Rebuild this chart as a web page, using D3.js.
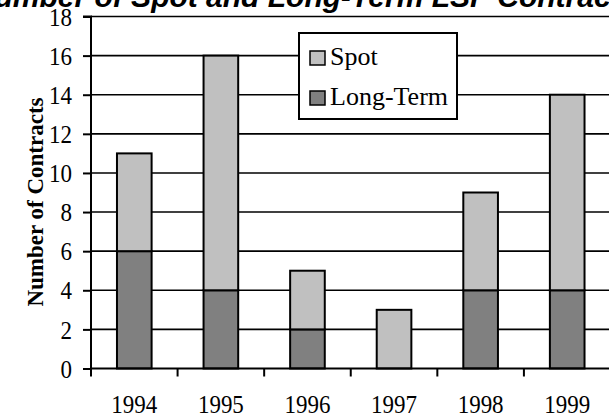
<!DOCTYPE html>
<html>
<head>
<meta charset="utf-8">
<script src="https://cdn.jsdelivr.net/npm/d3@7"></script>
<style>
  body { margin: 0; background: #fff; }
  svg { display: block; }
  .tall { transform-box: fill-box; transform-origin: center; transform: scaleY(1.1); }
</style>
</head>
<body>
<div class="chart-container"></div>
<script>
//! DATA
const years = ['1994', '1995', '1996', '1997', '1998', '1999'];
const longTerm = [6, 4, 2, 0, 4, 4];
const spot = [5, 12, 3, 3, 5, 10];
const yTicks = [0, 2, 4, 6, 8, 10, 12, 14, 16, 18];
const seriesNames = ['Spot', 'Long-Term'];
const seriesColors = ['#c0c0c0', '#808080'];

//! CONSTS
const width = 609;
const height = 418;
const plotLeft = 91;
const plotRight = 610.5;
const plotTop = 16.5;
const plotBottom = 368.5;
const serif = '"Liberation Serif", "Times New Roman", serif';

//! SVG
const svg = d3.select('.chart-container')
  .append('svg')
  .attr('width', width)
  .attr('height', height);

//! SCALES
const xScale = d3.scaleBand()
  .domain(years)
  .range([plotLeft, plotRight])
  .paddingInner(0.6)
  .paddingOuter(0.3);

const yScale = d3.scaleLinear()
  .domain([0, 18])
  .range([plotBottom, plotTop]);

// title (clipped at the top like the original)
svg.append('text')
  .attr('x', 305)
  .attr('y', 7)
  .attr('text-anchor', 'middle')
  .style('font-family', '"Liberation Sans", Arial, sans-serif')
  .style('font-weight', 'bold')
  .style('font-style', 'italic')
  .style('font-size', '30px')
  .text('Number of Spot and Long-Term LSP Contracts');

//! GRIDLINES
svg.append('g')
  .selectAll('line')
  .data(yTicks.filter(d => d > 0))
  .enter()
  .append('line')
  .attr('x1', plotLeft)
  .attr('x2', width)
  .attr('y1', d => yScale(d))
  .attr('y2', d => yScale(d))
  .attr('stroke', '#000')
  .attr('stroke-width', 1.6);

//! BARS
const stacked = d3.stack().keys([0, 1])
  .value((i, k) => k === 0 ? longTerm[i] : spot[i])(d3.range(years.length));

svg.append('g')
  .selectAll('g')
  .data(stacked)
  .enter()
  .append('g')
  .attr('fill', (d, k) => k === 0 ? seriesColors[1] : seriesColors[0])
  .selectAll('rect')
  .data(d => d.filter(p => p[1] > p[0]))
  .enter()
  .append('rect')
  .attr('x', p => xScale(years[p.data]))
  .attr('width', xScale.bandwidth())
  .attr('y', p => yScale(p[1]))
  .attr('height', p => yScale(p[0]) - yScale(p[1]))
  .attr('stroke', '#000')
  .attr('stroke-width', 2);

//! AXES
const yAxis = d3.axisLeft(yScale)
  .tickValues(yTicks)
  .tickSize(8)
  .tickPadding(11)
  .tickFormat(d3.format('d'));

const gy = svg.append('g')
  .attr('transform', `translate(${plotLeft},0)`)
  .call(yAxis);
gy.select('.domain').attr('stroke-width', 2).attr('d', `M-8,${plotTop}H0V${plotBottom}`);
gy.selectAll('.tick line').attr('stroke-width', 2);
gy.selectAll('.tick text')
  .attr('class', 'tall')
  .style('font-family', serif)
  .style('font-size', '23px')
  .attr('fill', '#000')
  .attr('dy', '0.34em');

const xAxis = d3.axisBottom(xScale).tickSize(0).tickPadding(27);
const gx = svg.append('g')
  .attr('transform', `translate(0,${plotBottom})`)
  .call(xAxis);
gx.select('.domain').attr('stroke-width', 2).attr('d', `M${plotLeft},0H${width}`);
gx.selectAll('.tick text')
  .attr('class', 'tall')
  .style('font-family', serif)
  .style('font-size', '23px')
  .attr('fill', '#000');

// category separators on the x axis
const step = xScale.step();
gx.append('g')
  .selectAll('line')
  .data(d3.range(years.length))
  .enter()
  .append('line')
  .attr('x1', i => plotLeft + i * step)
  .attr('x2', i => plotLeft + i * step)
  .attr('y1', 0)
  .attr('y2', 8)
  .attr('stroke', '#000')
  .attr('stroke-width', 2);

// y axis title
svg.append('text')
  .attr('transform', 'translate(43,202) rotate(-90)')
  .attr('text-anchor', 'middle')
  .style('font-family', serif)
  .style('font-weight', 'bold')
  .style('font-size', '23px')
  .text('Number of Contracts');

//! LEGEND
const legend = svg.append('g').attr('transform', 'translate(299,33)');
legend.append('rect')
  .attr('width', 158)
  .attr('height', 86)
  .attr('fill', '#fff')
  .attr('stroke', '#000')
  .attr('stroke-width', 2);

const items = legend.selectAll('.item')
  .data(seriesNames)
  .enter()
  .append('g')
  .attr('class', 'item')
  .attr('transform', (d, i) => `translate(11,${18 + i * 40})`);

items.append('rect')
  .attr('width', 15)
  .attr('height', 14)
  .attr('fill', (d, i) => seriesColors[i])
  .attr('stroke', '#000')
  .attr('stroke-width', 1.5);

items.append('text')
  .attr('x', 20)
  .attr('y', 14)
  .style('font-family', serif)
  .style('font-size', '26px')
  .text(d => d);
</script>
</body>
</html>
